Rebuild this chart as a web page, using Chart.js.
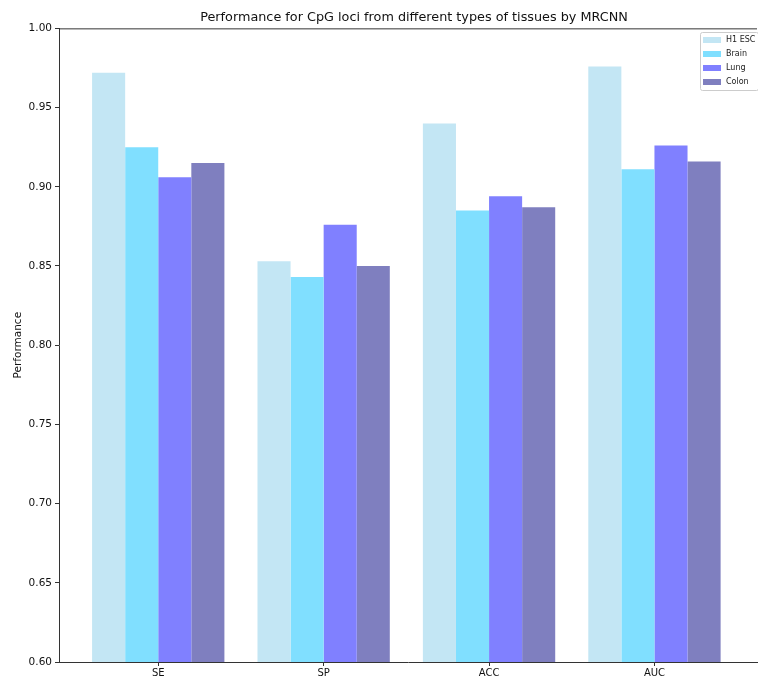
<!DOCTYPE html>
<html>
<head>
<meta charset="utf-8">
<script src="https://cdn.jsdelivr.net/npm/chart.js@4.4.1/dist/chart.umd.min.js"></script>
<style>
  html, body { margin: 0; padding: 0; background: #fff; overflow: hidden; }
  #wrap { width: 758px; height: 679px; position: relative; }
</style>
</head>
<body>
<div id="wrap"><canvas id="c"></canvas></div>
<script>
const categories = ['SE', 'SP', 'ACC', 'AUC'];
const seriesNames = ['H1 ESC', 'Brain', 'Lung', 'Colon'];
const h1Esc = [0.972, 0.853, 0.940, 0.976];
const brain = [0.925, 0.843, 0.885, 0.911];
const lung  = [0.906, 0.876, 0.894, 0.926];
const colon = [0.915, 0.850, 0.887, 0.916];
const yTicks = [0.60, 0.65, 0.70, 0.75, 0.80, 0.85, 0.90, 0.95, 1.00];
const colors = ['#c3e6f4', '#80dfff', '#8080ff', '#7f7fbf'];

const allSeries = [h1Esc, brain, lung, colon];
const FONT = "'DejaVu Sans', sans-serif";
const AXIS = '#333333';

const datasets = allSeries.map((vals, k) => ({
  label: seriesNames[k],
  data: vals.map((v, i) => ({ x: i, y: v })),
  backgroundColor: colors[k],
  borderWidth: 0,
  categoryPercentage: 0.8,
  barPercentage: 1.0
}));

const frameAndLegend = {
  id: 'frameAndLegend',
  afterLayout(chart) {
    // centre the title over the plot area, like matplotlib
    if (chart.titleBlock) {
      chart.titleBlock.left = chart.chartArea.left + 6;
      chart.titleBlock.right = chart.chartArea.right + 6;
    }
  },
  afterDraw(chart) {
    const ctx = chart.ctx;
    const a = chart.chartArea;
    ctx.save();
    // top spine
    ctx.strokeStyle = AXIS;
    ctx.lineWidth = 1;
    ctx.beginPath();
    ctx.moveTo(a.left, a.top + 0.5);
    ctx.lineTo(a.right, a.top + 0.5);
    ctx.stroke();
    // legend box
    const bx = 700, by = 32, bw = 58, bh = 58;
    ctx.fillStyle = 'rgba(255,255,255,0.85)';
    ctx.strokeStyle = '#cccccc';
    ctx.lineWidth = 1;
    ctx.beginPath();
    if (ctx.roundRect) ctx.roundRect(bx + 0.5, by + 0.5, bw, bh, 2); else ctx.rect(bx + 0.5, by + 0.5, bw, bh);
    ctx.fill();
    ctx.stroke();
    ctx.font = "8px " + FONT;
    ctx.textBaseline = 'middle';
    seriesNames.forEach((name, k) => {
      const yy = by + 8 + k * 14;
      ctx.fillStyle = colors[k];
      ctx.fillRect(bx + 3, yy - 3, 18, 6);
      ctx.fillStyle = '#222';
      ctx.fillText(name, bx + 26, yy);
    });
    ctx.restore();
  }
};

new Chart(document.getElementById('c'), {
  type: 'bar',
  data: { datasets },
  options: {
    responsive: true,
    maintainAspectRatio: false,
    animation: false,
    layout: { padding: { left: 0, right: 1, top: 0, bottom: 0 } },
    plugins: {
      legend: { display: false },
      tooltip: { enabled: false },
      title: {
        display: true,
        text: 'Performance for CpG loci from different types of tissues by MRCNN',
        color: '#111',
        font: { family: FONT, size: 12.8, weight: 'normal' },
        padding: { top: 10, bottom: 3 }
      }
    },
    scales: {
      x: {
        type: 'linear',
        min: -0.6,
        max: 3.62,
        offset: false,
        afterBuildTicks(scale) { scale.ticks = categories.map((c, i) => ({ value: i })); },
        afterFit(scale) { scale.height = 17; },
        ticks: {
          callback: (v) => categories[v] ?? '',
          color: '#111',
          font: { family: FONT, size: 10 },
          padding: 1,
          maxRotation: 0,
          autoSkip: false
        },
        grid: { display: true, offset: false, drawOnChartArea: false, drawTicks: true, tickLength: 4, color: AXIS },
        border: { display: true, color: AXIS, width: 1 }
      },
      y: {
        min: 0.6,
        max: 1.0,
        afterBuildTicks(scale) { scale.ticks = yTicks.map(v => ({ value: v })); },
        afterFit(scale) { scale.width = 59; },
        ticks: {
          callback: (v) => Number(v).toFixed(2),
          color: '#111',
          font: { family: FONT, size: 10.5 },
          padding: 3
        },
        grid: { display: true, drawOnChartArea: false, drawTicks: true, tickLength: 4, color: AXIS },
        border: { display: true, color: AXIS, width: 1 },
        title: {
          display: true,
          text: 'Performance',
          color: '#111',
          font: { family: FONT, size: 10.5 },
          padding: { top: 12, bottom: 0 }
        }
      }
    }
  },
  plugins: [frameAndLegend]
});
</script>
</body>
</html>
